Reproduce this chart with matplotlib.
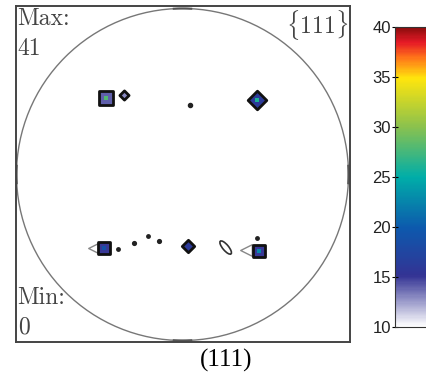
import numpy as np
import matplotlib.pyplot as plt
from matplotlib.colors import LinearSegmentedColormap
from matplotlib.patches import Circle, Ellipse
import matplotlib as mpl

plt.rcParams['mathtext.fontset'] = 'cm'
plt.rcParams['font.family'] = ['Liberation Sans', 'DejaVu Sans']

# pole figure spots (unit circle coords) and intensities
spot_x = [-0.46, -0.35, 0.045, 0.45, -0.47, -0.39, -0.29, -0.21, -0.14, 0.035, 0.46, 0.45]
spot_y = [0.46, 0.48, 0.42, 0.45, -0.44, -0.45, -0.41, -0.37, -0.40, -0.43, -0.46, -0.38]
spot_val = [14, 13, 10, 16, 15, 10, 10, 10, 10, 16, 15, 10]
spot_peak = [28, 13, 10, 26, 19, 10, 10, 10, 10, 16, 23, 10]
spot_mark = ['s', 'D', 'o', 'D', 's', 'o', 'o', 'o', 'o', 'D', 's', 'o']
spot_size = [95, 22, 6, 90, 75, 4, 5, 4, 5, 40, 75, 4]

# outline tails of the lower big spots
tail_x = [-0.535, 0.385]
tail_y = [-0.445, -0.455]

# tilted ellipse spot
ell_x, ell_y = 0.26, -0.44

max_val = 41
min_val = 0
cbar_ticks = [10, 15, 20, 25, 30, 35, 40]

cmap = LinearSegmentedColormap.from_list('pf', [
    (0.00, (1.0, 1.0, 1.0)),
    (0.17, (0.20, 0.20, 0.58)),
    (0.33, (0.05, 0.35, 0.68)),
    (0.50, (0.00, 0.68, 0.66)),
    (0.67, (0.55, 0.76, 0.30)),
    (0.83, (1.00, 0.90, 0.05)),
    (0.90, (1.00, 0.45, 0.10)),
    (0.95, (0.90, 0.10, 0.15)),
    (1.00, (0.55, 0.05, 0.05)),
])
norm = mpl.colors.Normalize(10, 40)

fig = plt.figure(figsize=(4.27, 3.75), dpi=100)
ax = fig.add_axes([16 / 427, 33 / 375, 334 / 427, 336 / 375])
ax.set_xlim(-1.003, 1.009)
ax.set_ylim(-1.009, 1.015)
ax.set_xticks([])
ax.set_yticks([])
for s in ax.spines.values():
    s.set_color('#444444')
    s.set_linewidth(1.4)

ax.add_patch(Circle((0, 0), 1.0, fill=False, ec='#777777', lw=1.0))
# small darker marks on the circle at the compass points
for a in [0, 90, 180, 270]:
    t = np.radians(np.linspace(a - 3, a + 3, 10))
    ax.plot(np.cos(t), np.sin(t), color='#555555', lw=1.5)

ax.scatter(tail_x, tail_y, marker='<', s=70, facecolor='white', edgecolor='#888888', lw=1.0, zorder=2)
for x, y, v, p, m, sz in zip(spot_x, spot_y, spot_val, spot_peak, spot_mark, spot_size):
    if v <= 10:
        ax.scatter([x], [y], marker=m, s=sz, color='#222222', lw=1.5,
                   edgecolor='#222222', zorder=3)
        continue
    ax.scatter([x], [y], marker=m, s=sz, c=[v], cmap=cmap, norm=norm,
               edgecolor='#111111', lw=2.0, zorder=3)
    if p > v:
        ax.scatter([x], [y], marker='s', s=sz * 0.12, c=[p], cmap=cmap, norm=norm,
                   lw=0, zorder=4)
ax.add_patch(Ellipse((ell_x, ell_y), 0.035, 0.1, angle=40, fill=False, ec='#333333', lw=1.2, zorder=3))

serif = dict(family='cmr10', color='#444444', fontsize=17)
ax.text(0.005, 0.995, 'Max:', transform=ax.transAxes, ha='left', va='top', **serif)
ax.text(0.005, 0.905, str(max_val), transform=ax.transAxes, ha='left', va='top', **serif)
ax.text(0.005, 0.165, 'Min:', transform=ax.transAxes, ha='left', va='top', **serif)
ax.text(0.005, 0.075, str(min_val), transform=ax.transAxes, ha='left', va='top', **serif)
ax.text(0.995, 0.995, r'$\{111\}$', transform=ax.transAxes, ha='right', va='top',
        color='#444444', fontsize=17)

fig.text(226 / 427, 1 - 360 / 375, '(111)', ha='center', va='center',
         family='Liberation Serif', fontsize=18)

cax = fig.add_axes([395 / 427, 48 / 375, 45 / 427, 300 / 375])
cb = mpl.colorbar.ColorbarBase(cax, cmap=cmap, norm=norm, orientation='vertical', ticks=cbar_ticks)
cb.outline.set_edgecolor('#333333')
cax.yaxis.set_ticks_position('left')
cax.tick_params(axis='y', direction='inout', length=4, labelsize=12, pad=1,
                labelcolor='#222222')

fig.savefig('out.png', dpi=100)
